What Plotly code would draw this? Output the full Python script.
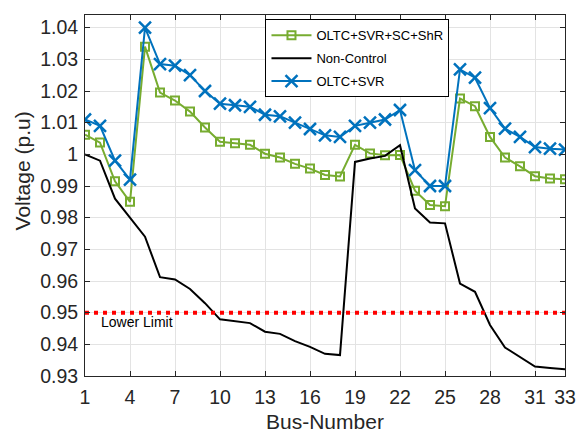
import plotly.graph_objects as go

bus = list(range(1, 34))

oltc_svr_sc_shr = [1.0062, 1.0037, 0.9915, 0.9850, 1.0340, 1.0195, 1.0170, 1.0135, 1.0085, 1.0040,
                   1.0035, 1.0030, 1.0002, 0.9990, 0.9970, 0.9955, 0.9935, 0.9930, 1.0030, 1.0003,
                   0.9997, 0.9998, 0.9885, 0.9840, 0.9836, 1.0176, 1.0152, 1.0055, 0.9990, 0.9962,
                   0.9931, 0.9924, 0.9921]

non_control = [1.0000, 0.9980, 0.9860, 0.9800, 0.9740, 0.9612, 0.9605, 0.9575, 0.9530, 0.9479,
               0.9473, 0.9467, 0.9440, 0.9433, 0.9410, 0.9392, 0.9370, 0.9366, 0.9976, 0.9987,
               0.9995, 1.0029, 0.9829, 0.9785, 0.9782, 0.9592, 0.9566, 0.9461, 0.9390, 0.9360,
               0.9330, 0.9325, 0.9321]

oltc_svr = [1.0110, 1.0090, 0.9980, 0.9920, 1.0400, 1.0285, 1.0280, 1.0250, 1.0200, 1.0160,
            1.0155, 1.0150, 1.0125, 1.0120, 1.0100, 1.0080, 1.0060, 1.0055, 1.0090, 1.0100,
            1.0110, 1.0140, 0.9950, 0.9900, 0.9900, 1.0268, 1.0242, 1.0146, 1.0081, 1.0055,
            1.0023, 1.0018, 1.0015]

lower_limit = [0.95] * 33

x_ticks = [1, 4, 7, 10, 13, 16, 19, 22, 25, 28, 31, 33]
y_ticks = [0.93, 0.94, 0.95, 0.96, 0.97, 0.98, 0.99, 1.00, 1.01, 1.02, 1.03, 1.04]
y_tick_text = ["0.93", "0.94", "0.95", "0.96", "0.97", "0.98", "0.99", "1", "1.01", "1.02", "1.03", "1.04"]

FONT = "Liberation Sans, Arial, Helvetica, sans-serif"

fig = go.Figure()
fig.add_trace(go.Scatter(
    x=bus, y=oltc_svr_sc_shr, name="OLTC+SVR+SC+ShR", mode="lines+markers",
    line=dict(color="#77AC30", width=2),
    marker=dict(symbol="square-open", size=8, color="#77AC30", line=dict(width=2, color="#77AC30")),
    legendgroup="a"))
fig.add_trace(go.Scatter(
    x=bus, y=non_control, name="Non-Control", mode="lines",
    line=dict(color="black", width=2), legendgroup="b"))
fig.add_trace(go.Scatter(
    x=bus, y=oltc_svr, name="OLTC+SVR", mode="lines+markers",
    line=dict(color="#0072BD", width=2),
    marker=dict(symbol="x-thin", size=12, color="#0072BD", line=dict(width=2.5, color="#0072BD")),
    legendgroup="c"))
fig.add_trace(go.Scatter(
    x=bus, y=lower_limit, mode="lines", showlegend=False,
    line=dict(color="#FF0000", width=4, dash="4px,5px")))

fig.add_annotation(x=1.95, y=0.9469, text="Lower Limit", showarrow=False,
                   xanchor="left", yanchor="middle", font=dict(family=FONT, size=14, color="black"))

# axis titles
fig.add_annotation(x=0.5, y=-0.127, xref="paper", yref="paper", text="Bus-Number", showarrow=False,
                   xanchor="center", yanchor="middle", font=dict(family=FONT, size=21, color="#262626"))
fig.add_annotation(x=-0.131, y=0.567, xref="paper", yref="paper", text="Voltage (p.u)", showarrow=False,
                   textangle=-90, xanchor="center", yanchor="middle",
                   font=dict(family=FONT, size=21, color="#262626"))

axis_common = dict(
    showgrid=True, gridcolor="#e3e3e3", gridwidth=1,
    showline=True, linecolor="#262626", linewidth=1,
    ticks="inside", ticklen=5, tickcolor="#262626", mirror="ticks",
    tickfont=dict(family=FONT, size=19.5, color="#262626"),
    zeroline=False, automargin=False,
)

fig.update_xaxes(range=[1, 33], tickvals=x_ticks, ticktext=[str(t) for t in x_ticks],
                 ticklabelstandoff=4, **axis_common)
fig.update_yaxes(range=[0.93, 1.044], tickvals=y_ticks, ticktext=y_tick_text,
                 ticklabelstandoff=2, **axis_common)

fig.update_layout(
    width=577, height=435,
    margin=dict(l=85, r=12, t=15, b=59),
    paper_bgcolor="white", plot_bgcolor="white",
    font=dict(family=FONT),
    legend=dict(x=0.376, y=0.988, xanchor="left", yanchor="top",
                bgcolor="white", bordercolor="black", borderwidth=1,
                font=dict(family=FONT, size=13, color="black"),
                tracegroupgap=3, itemwidth=40),
)

fig.write_html("out.html", config={"displayModeBar": False},
               post_script="document.body.style.margin='0px';document.body.style.overflow='hidden';")
